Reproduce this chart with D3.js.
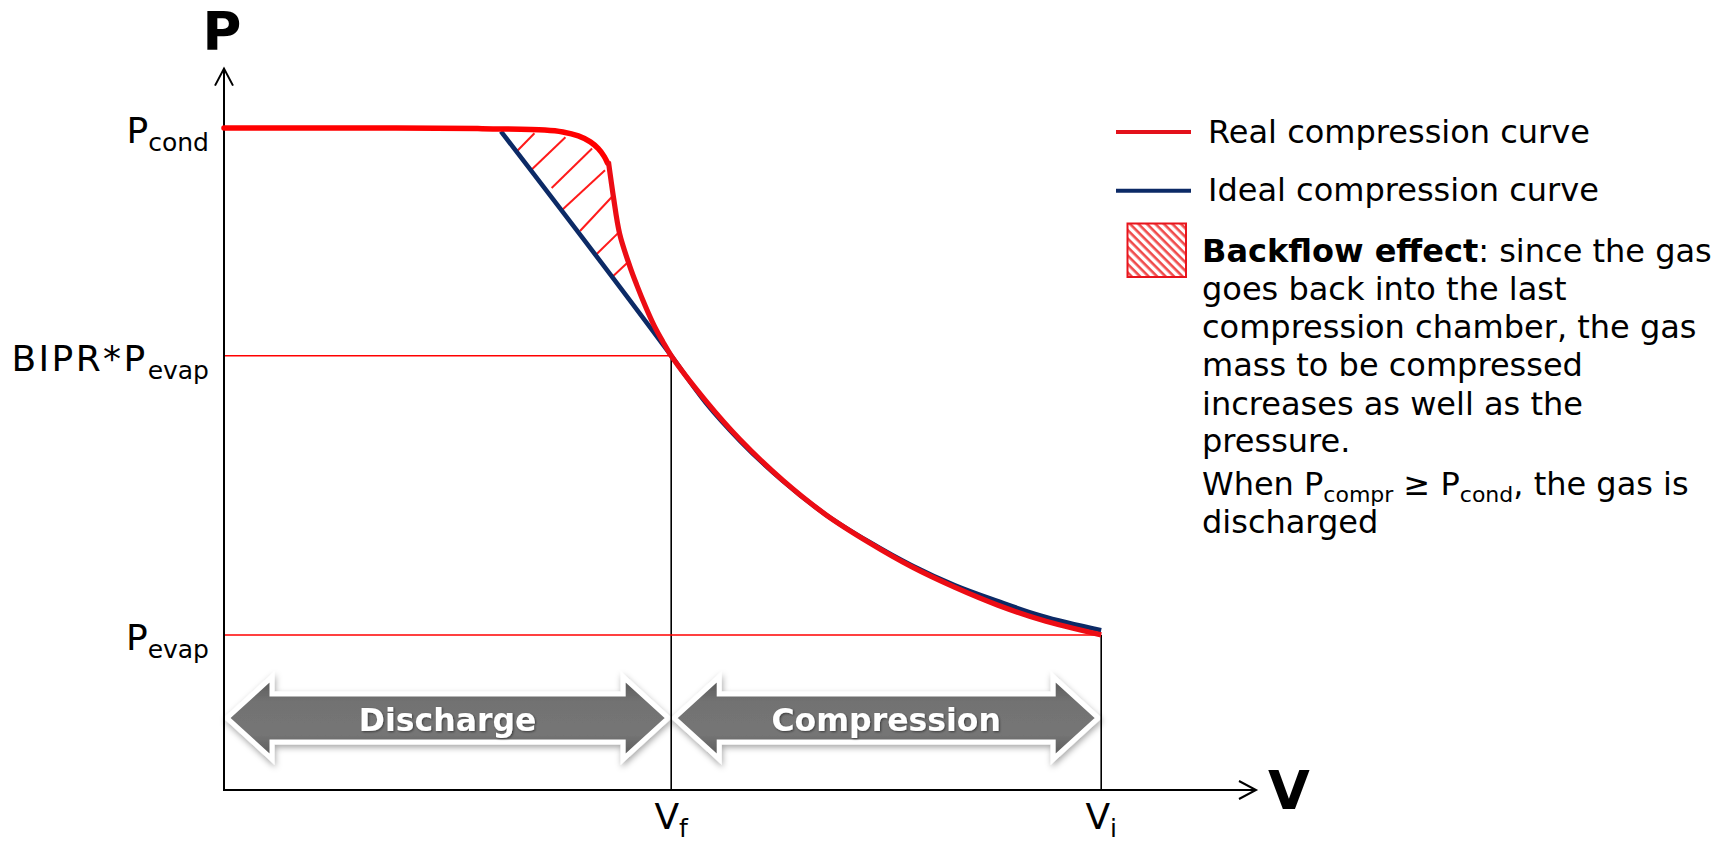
<!DOCTYPE html>
<html><head><meta charset="utf-8">
<script src="https://cdn.jsdelivr.net/npm/d3@7"></script>
<style>
body{margin:0;background:#fff}
svg{display:block}
text{font-family:"DejaVu Sans",Verdana,sans-serif}
</style>
</head><body>
<svg id="c" width="1732" height="842"></svg>
<script>
// ---------------- data (V, P in arbitrary units) ----------------
const Vf = 5.2, Vi = 10.2;
const Pcond = 10.03, Pbipr = 6.58, Pevap = 2.35;
const vMax = 12, pMax = 10.93;

const realTop = [[0,10.03],[2.0,10.03],[3.0,10.02],[3.73,10.0],[3.94,9.97],[4.12,9.91],[4.26,9.82],[4.35,9.72],[4.42,9.6],[4.46,9.5]];
const realBottom = [[4.47,9.52],[4.50,9.24],[4.53,8.97],[4.60,8.43],[4.72,7.93],[4.80,7.65],[4.90,7.33],[5.0,7.04],[5.1,6.80],[5.2,6.58],[5.6,5.90],[6.0,5.31],[6.5,4.69],[7.0,4.17],[7.5,3.75],[8.0,3.38],[8.5,3.07],[9.0,2.80],[9.5,2.58],[10.2,2.35]];
const ideal = [[3.22,9.98],[5.2,6.58],[5.6,5.87],[6.0,5.29],[6.5,4.68],[7.0,4.17],[7.5,3.76],[8.0,3.40],[8.5,3.10],[9.0,2.86],[9.5,2.64],[10.2,2.42]];
// backflow hatch segments [V1,P1,V2,P2]
const hatch = [[3.40,9.67,3.61,9.95],[3.56,9.38,3.97,9.89],[3.81,9.12,4.28,9.72],[3.94,8.80,4.43,9.39],[4.14,8.47,4.52,9.0],[4.31,8.09,4.60,8.46],[4.52,7.78,4.70,8.0]];

const pTicks = [{main:"P", sub:"cond", p:Pcond, ls:0},{main:"BIPR*P", sub:"evap", p:Pbipr, ls:2.4},{main:"P", sub:"evap", p:Pevap, ls:0}];
const vTicks = [{main:"V", sub:"f", v:Vf},{main:"V", sub:"i", v:Vi}];
const refH = [{p:Pbipr, v:Vf},{p:Pevap, v:Vi}];
const phases = [{label:"Discharge", from:0, to:Vf},{label:"Compression", from:Vf, to:Vi}];
const legendLines = [{label:"Real compression curve", color:"#e3111b"},{label:"Ideal compression curve", color:"#0c2a66"}];
const noteLines = [
  [{t:"Backflow effect", b:true},{t:": since the gas"}],
  [{t:"goes back into the last"}],
  [{t:"compression chamber, the gas"}],
  [{t:"mass to be compressed"}],
  [{t:"increases as well as the"}],
  [{t:"pressure."}],
  [{t:"When P"},{t:"compr", s:true},{t:" ≥ P"},{t:"cond", s:true},{t:", the gas is"}],
  [{t:"discharged"}]
];
const noteExtra = [0,0,0,0,0,-1.5,3.5,3];

// ---------------- layout ----------------
const svg = d3.select("#c");
const x = d3.scaleLinear().domain([0, vMax]).range([224, 1256]);
const y = d3.scaleLinear().domain([0, 11]).range([790, 64]);

const defs = svg.append("defs");
const pat = defs.append("pattern").attr("id","hatchPat").attr("patternUnits","userSpaceOnUse")
  .attr("width",6).attr("height",6).attr("patternTransform","rotate(45)");
pat.append("rect").attr("width",6).attr("height",6).attr("fill","#fff");
pat.append("rect").attr("y",0).attr("width",6).attr("height",2.6).attr("fill","#f04a4a");

const grad = defs.append("linearGradient").attr("id","arrowGrad").attr("x1",0).attr("y1",0).attr("x2",0).attr("y2",1);
grad.append("stop").attr("offset","0%").attr("stop-color","#575757");
grad.append("stop").attr("offset","30%").attr("stop-color","#727272");
grad.append("stop").attr("offset","70%").attr("stop-color","#757575");
grad.append("stop").attr("offset","100%").attr("stop-color","#575757");

const sh = defs.append("filter").attr("id","shadow").attr("x","-10%").attr("y","-30%").attr("width","120%").attr("height","170%");
sh.append("feDropShadow").attr("dx",1).attr("dy",3).attr("stdDeviation",3).attr("flood-color","#000").attr("flood-opacity",0.35);
const tsh = defs.append("filter").attr("id","tshadow").attr("x","-10%").attr("y","-30%").attr("width","120%").attr("height","170%");
tsh.append("feDropShadow").attr("dx",1).attr("dy",1).attr("stdDeviation",1).attr("flood-color","#000").attr("flood-opacity",0.5);

// phase arrows
const cy = 718, hS = 24, hH = 41, L = 45;
phases.forEach(ph => {
  const x0 = x(ph.from) + 3, x1 = x(ph.to) - 3;
  const pts = [[x0,cy],[x0+L,cy-hH],[x0+L,cy-hS],[x1-L,cy-hS],[x1-L,cy-hH],[x1,cy],[x1-L,cy+hH],[x1-L,cy+hS],[x0+L,cy+hS],[x0+L,cy+hH]];
  svg.append("polygon").attr("points", pts.map(p=>p.join(",")).join(" "))
    .attr("fill","url(#arrowGrad)").attr("stroke","#fff").attr("stroke-width",5)
    .attr("stroke-linejoin","miter").attr("filter","url(#shadow)");
  svg.append("text").attr("x",(x0+x1)/2).attr("y",cy+12.5).attr("text-anchor","middle")
    .attr("font-size",31.5).attr("font-weight","bold").attr("fill","#fff").attr("filter","url(#tshadow)")
    .text(ph.label);
});

// reference lines
refH.forEach(r => {
  svg.append("line").attr("x1",x(0)).attr("x2",x(r.v)).attr("y1",y(r.p)).attr("y2",y(r.p))
    .attr("stroke","#ff0000").attr("stroke-width",1.5);
  svg.append("line").attr("x1",x(r.v)).attr("x2",x(r.v)).attr("y1",y(0)).attr("y2",y(r.p))
    .attr("stroke","#000").attr("stroke-width",1.6);
});

// axes
const ax = svg.append("g").attr("stroke","#000").attr("stroke-width",2).attr("fill","none");
ax.append("line").attr("x1",x(0)).attr("x2",x(0)).attr("y1",y(0)+1).attr("y2",y(pMax));
ax.append("line").attr("x1",x(0)-1).attr("x2",x(vMax)).attr("y1",y(0)).attr("y2",y(0));
ax.append("path").attr("d",`M${x(0)-9},${y(pMax)+17} L${x(0)},${y(pMax)} L${x(0)+9},${y(pMax)+17}`);
ax.append("path").attr("d",`M${x(vMax)-17},${y(0)-9} L${x(vMax)},${y(0)} L${x(vMax)-17},${y(0)+9}`);

svg.append("text").attr("x",222).attr("y",50).attr("text-anchor","middle").attr("font-size",53).attr("font-weight","bold").text("P");
svg.append("text").attr("x",1289).attr("y",809).attr("text-anchor","middle").attr("font-size",54).attr("font-weight","bold").text("V");

// tick labels
pTicks.forEach(t => {
  const tx = svg.append("text").attr("x",209).attr("y",y(t.p)+15).attr("text-anchor","end").attr("font-size",36);
  tx.append("tspan").attr("letter-spacing",t.ls).text(t.main);
  tx.append("tspan").attr("font-size",25).attr("dy",8).text(t.sub);
});
vTicks.forEach(t => {
  const tx = svg.append("text").attr("x",x(t.v)).attr("y",829).attr("text-anchor","middle").attr("font-size",36);
  tx.append("tspan").text(t.main);
  tx.append("tspan").attr("font-size",25).attr("dy",8).text(t.sub);
});

// hatch
svg.append("g").selectAll("line").data(hatch).join("line")
  .attr("x1",d=>x(d[0])).attr("y1",d=>y(d[1])).attr("x2",d=>x(d[2])).attr("y2",d=>y(d[3]))
  .attr("stroke","#ff1a1a").attr("stroke-width",2);

// curves
const lineMono = d3.line().x(d=>x(d[0])).y(d=>y(d[1])).curve(d3.curveMonotoneX);
const lineCR = d3.line().x(d=>x(d[0])).y(d=>y(d[1])).curve(d3.curveCatmullRom.alpha(0.5));
svg.append("path").attr("d",lineMono(ideal)).attr("fill","none").attr("stroke","#0c2a66").attr("stroke-width",4.6);
svg.append("path").attr("d",lineCR(realTop)).attr("fill","none").attr("stroke","#ff0000").attr("stroke-width",5.5).attr("stroke-linecap","round");
svg.append("path").attr("d",lineCR(realBottom)).attr("fill","none").attr("stroke","#ec0c14").attr("stroke-width",5.2);

// legend
legendLines.forEach((l,i) => {
  const ly = 132 + i*58.7;
  svg.append("line").attr("x1",1116).attr("x2",1191).attr("y1",ly).attr("y2",ly).attr("stroke",l.color).attr("stroke-width",4);
  svg.append("text").attr("x",1208).attr("y",ly+10.5).attr("font-size",32).attr("fill","#000").text(l.label);
});
svg.append("rect").attr("x",1127.5).attr("y",223.5).attr("width",58.5).attr("height",53.5)
  .attr("fill","url(#hatchPat)").attr("stroke","#e8141c").attr("stroke-width",2);
noteLines.forEach((parts,i) => {
  const tx = svg.append("text").attr("x",1202).attr("y",261.5 + i*38.3 + noteExtra[i]).attr("font-size",32).attr("fill","#000");
  let shifted = false;
  parts.forEach(p => {
    const ts = tx.append("tspan").text(p.t);
    if (p.b) ts.attr("font-weight","bold");
    if (p.s) { ts.attr("font-size",22).attr("dy",7); shifted = true; }
    else if (shifted) { ts.attr("dy",-7); shifted = false; }
  });
});
</script>
</body></html>
